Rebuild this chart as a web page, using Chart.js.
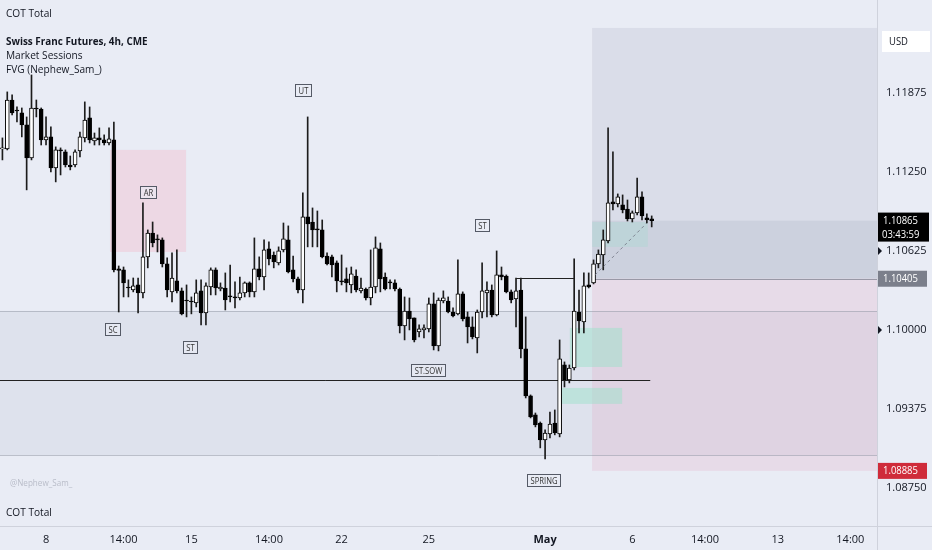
<!DOCTYPE html>
<html>
<head>
<meta charset="utf-8">
<script src="https://cdn.jsdelivr.net/npm/chart.js@4.4.1/dist/chart.umd.min.js"></script>
<style>
  html, body { margin: 0; padding: 0; background: #e9ecf5; }
  #wrap { width: 932px; height: 550px; }
</style>
</head>
<body>
<div id="wrap"><canvas id="c" width="932" height="550"></canvas></div>
<script>
/* Swiss Franc Futures 4h – candles */

const slotCount = 181;                      // candle slots incl. empty space on the right
const slots = Array.from({ length: slotCount }, (_, i) => i);

const opens = [
  1.11432,1.11432,1.11819,1.11740,1.11717,1.11622,1.11361,1.11756,1.11748,1.11503,
  1.11527,1.11282,1.11424,1.11408,1.11305,1.11305,1.11416,1.11519,1.11677,1.11495,
  1.11519,1.11503,1.11479,1.11503,1.10483,1.10475,1.10340,1.10316,1.10356,1.10293,
  1.10578,1.10767,1.10720,1.10712,1.10522,1.10301,1.10388,1.10309,1.10237,1.10229,
  1.10214,1.10309,1.10135,1.10340,1.10475,1.10324,1.10332,1.10269,1.10261,1.10253,
  1.10293,1.10372,1.10301,1.10483,1.10419,1.10641,1.10593,1.10530,1.10633,1.10712,
  1.10475,1.10404,1.10316,1.10894,1.10854,1.10799,1.10791,1.10585,1.10578,1.10530,
  1.10388,1.10404,1.10356,1.10427,1.10309,1.10324,1.10253,1.10340,1.10641,1.10419,
  1.10380,1.10372,1.10324,1.10032,1.10150,1.10095,1.09984,1.10000,1.10008,1.10206,
  1.09873,1.10229,1.10229,1.10142,1.10127,1.10285,1.10103,1.10024,1.09937,1.10142,
  1.10293,1.10316,1.10119,1.10435,1.10427,1.10301,1.10245,1.10316,1.09850,1.09478,
  1.09328,1.09264,1.09130,1.09177,1.09264,1.09177,1.09723,1.09604,1.09699,1.10142,
  1.10063,1.10356,1.10372,1.10522,1.10593,1.10704,1.11013,1.10997,1.10989,1.10957,
  1.10878,1.10926,1.11052,1.10886,1.10878
];
const highs = [
  1.11519,1.11883,1.11859,1.11764,1.11756,1.11685,1.12017,1.11819,1.11756,1.11685,
  1.11606,1.11448,1.11440,1.11424,1.11376,1.11424,1.11566,1.11804,1.11764,1.11558,
  1.11598,1.11543,1.11598,1.11645,1.10506,1.10498,1.10396,1.10411,1.10411,1.11005,
  1.10791,1.10854,1.10752,1.10728,1.10570,1.10609,1.10633,1.10332,1.10356,1.10261,
  1.10396,1.10396,1.10372,1.10491,1.10491,1.10372,1.10451,1.10514,1.10380,1.10419,
  1.10380,1.10380,1.10728,1.10578,1.10712,1.10696,1.10617,1.10657,1.10846,1.10823,
  1.10585,1.10419,1.11084,1.11685,1.10965,1.10941,1.10870,1.10609,1.10593,1.10546,
  1.10593,1.10491,1.10498,1.10475,1.10411,1.10332,1.10633,1.10736,1.10688,1.10451,
  1.10396,1.10396,1.10332,1.10261,1.10253,1.10095,1.10040,1.10040,1.10253,1.10293,
  1.10253,1.10309,1.10261,1.10174,1.10554,1.10301,1.10142,1.10103,1.10158,1.10530,
  1.10380,1.10356,1.10625,1.10498,1.10435,1.10316,1.10411,1.10411,1.10103,1.09486,
  1.09343,1.09272,1.09209,1.09351,1.09367,1.09921,1.09747,1.09723,1.10562,1.10316,
  1.10451,1.10451,1.10554,1.10633,1.10791,1.11598,1.11408,1.11076,1.11068,1.11028,
  1.10941,1.11202,1.11092,1.10918,1.10902
];
const lows = [
  1.11345,1.11424,1.11701,1.11645,1.11527,1.11108,1.11345,1.11685,1.11463,1.11463,
  1.11250,1.11171,1.11226,1.11289,1.11266,1.11289,1.11368,1.11487,1.11479,1.11463,
  1.11463,1.11463,1.11463,1.10459,1.10142,1.10261,1.10261,1.10301,1.10135,1.10253,
  1.10491,1.10657,1.10617,1.10498,1.10261,1.10221,1.10293,1.10119,1.10103,1.10127,
  1.10182,1.10040,1.10040,1.10277,1.10277,1.10309,1.10158,1.10221,1.10174,1.10237,
  1.10261,1.10261,1.10261,1.10396,1.10316,1.10514,1.10491,1.10514,1.10617,1.10451,
  1.10380,1.10293,1.10214,1.10657,1.10657,1.10657,1.10570,1.10514,1.10419,1.10301,
  1.10356,1.10301,1.10293,1.10301,1.10293,1.10237,1.10198,1.10293,1.10301,1.10316,
  1.10324,1.10309,1.09976,1.09921,1.10000,1.09905,1.09945,1.09937,1.09984,1.09842,
  1.09834,1.10214,1.10135,1.10103,1.10119,1.10071,1.09897,1.09929,1.09818,1.10095,
  1.10103,1.10103,1.10111,1.10396,1.10293,1.10214,1.10024,1.09779,1.09462,1.09304,
  1.09233,1.09067,1.08980,1.09146,1.09170,1.09154,1.09549,1.09581,1.09684,1.09976,
  1.09976,1.10332,1.10364,1.10491,1.10475,1.10688,1.10949,1.10973,1.10926,1.10862,
  1.10854,1.10910,1.10870,1.10846,1.10815
];
const closes = [
  1.11440,1.11819,1.11717,1.11732,1.11622,1.11361,1.11756,1.11748,1.11503,1.11527,
  1.11282,1.11424,1.11416,1.11305,1.11289,1.11408,1.11527,1.11661,1.11503,1.11519,
  1.11503,1.11479,1.11511,1.10475,1.10470,1.10372,1.10332,1.10348,1.10293,1.10578,
  1.10767,1.10688,1.10712,1.10522,1.10316,1.10411,1.10309,1.10127,1.10229,1.10221,
  1.10293,1.10135,1.10348,1.10475,1.10332,1.10340,1.10237,1.10261,1.10253,1.10293,
  1.10372,1.10301,1.10483,1.10419,1.10633,1.10562,1.10538,1.10625,1.10720,1.10459,
  1.10404,1.10316,1.10894,1.10839,1.10791,1.10791,1.10578,1.10522,1.10514,1.10388,
  1.10380,1.10372,1.10443,1.10316,1.10332,1.10253,1.10340,1.10649,1.10404,1.10324,
  1.10372,1.10324,1.10032,1.10150,1.10087,1.09921,1.10008,1.10016,1.10206,1.09873,
  1.10237,1.10253,1.10142,1.10111,1.10285,1.10087,1.10024,1.09945,1.10142,1.10309,
  1.10316,1.10119,1.10435,1.10419,1.10301,1.10237,1.10309,1.09850,1.09478,1.09312,
  1.09249,1.09130,1.09185,1.09256,1.09185,1.09771,1.09604,1.09699,1.10150,1.10071,
  1.10348,1.10340,1.10522,1.10601,1.10712,1.11005,1.10997,1.11052,1.10949,1.10878,
  1.10926,1.11052,1.10902,1.10870,1.10865
];

// axes
const priceTicks = [1.08750, 1.09375, 1.10000, 1.10625, 1.11250, 1.11875];
const timeTickSlots = [9, 25, 39, 55, 70, 88, 112, 130, 145, 160, 175];
const timeTickText = ['8', '14:00', '15', '14:00', '22', '25', 'May', '6', '14:00', '13', '14:00'];

// wyckoff event labels (slot, price)
const eventNames  = ['SC', 'ST', 'AR', 'UT', 'ST', 'ST.SOW', 'SPRING'];
const eventSlots  = [22.8, 38.7, 30.0, 62.0, 99.0, 87.8, 111.6];
const eventPrices = [1.10008, 1.09866, 1.11092, 1.11898, 1.10831, 1.09684, 1.08813];

// price tags on the right scale
const lastPrice = 1.10865, entryPrice = 1.10405, stopPrice = 1.08885, targetPrice = 1.12389;

const FONT = "'Open Sans', 'Noto Sans', sans-serif";
const BG = '#e9ecf5';

function txt(ctx, s, x, y, font, color, sx, align) {
  ctx.save();
  ctx.font = font;
  ctx.fillStyle = color;
  ctx.textBaseline = 'middle';
  ctx.textAlign = align || 'left';
  ctx.translate(x, y);
  ctx.scale(sx || 1, 1);
  ctx.fillText(s, 0, 0);
  ctx.restore();
}

// kill the label padding chart.js adds around the plot
function noPad(s) {
  s.paddingTop = 0; s.paddingBottom = 0; s.paddingLeft = 0; s.paddingRight = 0;
}

const overlay = {
  id: 'overlay',
  beforeDraw(chart) {
    const ctx = chart.ctx;
    ctx.save();
    ctx.fillStyle = BG;
    ctx.fillRect(0, 0, chart.width, chart.height);
    ctx.restore();
  },
  beforeDatasetsDraw(chart) {
    const ctx = chart.ctx, a = chart.chartArea;
    const X = v => chart.scales.x.getPixelForValue(v);
    const Y = p => chart.scales.y.getPixelForValue(p);
    const rect = (x1, x2, p1, p2, col) => {
      ctx.fillStyle = col;
      ctx.fillRect(x1, Y(p1), x2 - x1, Y(p2) - Y(p1));
    };
    ctx.save();
    // session band
    rect(a.left, a.right, 1.10150, 1.09010, 'rgba(170,176,198,0.16)');
    // supply zone
    rect(X(22.2), X(37.9), 1.11424, 1.10617, 'rgba(242,196,212,0.5)');
    // long position tool
    const px = X(121.7);
    rect(px, a.right, targetPrice, lastPrice, 'rgba(160,166,186,0.2)');
    rect(px, a.right, lastPrice, entryPrice, 'rgba(140,146,170,0.3)');
    rect(px, a.right, entryPrice, stopPrice, 'rgba(226,168,196,0.25)');
    // fair value gaps
    rect(X(117.1), X(127.9), 1.10016, 1.09707, 'rgba(150,226,200,0.45)');
    rect(X(115.1), X(127.9), 1.09541, 1.09415, 'rgba(150,226,200,0.45)');
    rect(px, X(133.2), 1.10854, 1.10657, 'rgba(160,220,205,0.3)');
    // band edges
    ctx.strokeStyle = 'rgba(150,154,168,0.55)';
    ctx.lineWidth = 1;
    [1.10150, 1.09010].forEach(p => {
      const y = Math.round(Y(p)) + 0.5;
      ctx.beginPath(); ctx.moveTo(a.left, y); ctx.lineTo(a.right, y); ctx.stroke();
    });
    // entry line
    ctx.strokeStyle = 'rgba(120,124,138,0.7)';
    let y = Math.round(Y(entryPrice)) + 0.5;
    ctx.beginPath(); ctx.moveTo(px, y); ctx.lineTo(a.right, y); ctx.stroke();
    // black level line
    ctx.strokeStyle = '#222';
    y = Math.round(Y(1.09604)) + 0.5;
    ctx.beginPath(); ctx.moveTo(a.left, y); ctx.lineTo(X(133.7), y); ctx.stroke();
    ctx.restore();
  },
  afterDatasetsDraw(chart) {
    const ctx = chart.ctx;
    const X = v => chart.scales.x.getPixelForValue(v);
    const Y = p => chart.scales.y.getPixelForValue(p);
    ctx.save();
    // range high line
    ctx.strokeStyle = '#222';
    ctx.lineWidth = 1;
    let y = Math.round(Y(1.10411)) + 0.5;
    ctx.beginPath(); ctx.moveTo(X(106), y); ctx.lineTo(X(118), y); ctx.stroke();
    // dashed trend line
    ctx.strokeStyle = 'rgba(110,114,128,0.8)';
    ctx.setLineDash([3, 3]);
    ctx.beginPath(); ctx.moveTo(X(122.3), Y(1.10435)); ctx.lineTo(X(133), Y(1.10846)); ctx.stroke();
    ctx.setLineDash([]);
    // event labels
    const lf = `9px ${FONT}`;
    eventNames.forEach((n, i) => {
      ctx.font = lf;
      const cx = X(eventSlots[i]), cy = Y(eventPrices[i]);
      const w = Math.round(ctx.measureText(n).width * 0.85 + 6), h = 12;
      const bx = Math.round(cx - w / 2) + 0.5, by = Math.round(cy - h / 2) + 0.5;
      ctx.fillStyle = 'rgba(233,236,245,0.6)';
      ctx.fillRect(bx, by, w, h);
      ctx.strokeStyle = '#555a66';
      ctx.strokeRect(bx, by, w, h);
      txt(ctx, n, bx + w / 2, by + h / 2 + 0.5, lf, '#333', 0.85, 'center');
    });
    // legend texts
    txt(ctx, 'COT Total', 6, 14, `11px ${FONT}`, '#131722', 0.92);
    txt(ctx, 'Swiss Franc Futures, 4h, CME', 6, 42, `bold 11px ${FONT}`, '#131722', 0.9);
    txt(ctx, 'Market Sessions', 6, 56, `11px ${FONT}`, '#131722', 0.92);
    txt(ctx, 'FVG (Nephew_Sam_)', 6, 70, `11px ${FONT}`, '#131722', 0.92);
    txt(ctx, '@Nephew_Sam_', 10, 483, `9px ${FONT}`, '#b9bdc9', 0.9);
    txt(ctx, 'COT Total', 6, 513, `11px ${FONT}`, '#131722', 0.92);
    ctx.restore();
  },
  afterDraw(chart) {
    const ctx = chart.ctx, a = chart.chartArea;
    const Y = p => chart.scales.y.getPixelForValue(p);
    ctx.save();
    ctx.strokeStyle = '#cfd2dc';
    ctx.lineWidth = 1;
    ctx.beginPath(); ctx.moveTo(a.right + 0.5, 0); ctx.lineTo(a.right + 0.5, chart.height); ctx.stroke();
    ctx.beginPath(); ctx.moveTo(0, a.bottom + 0.5); ctx.lineTo(chart.width, a.bottom + 0.5); ctx.stroke();
    const L = a.right + 1;
    const tf = `11px ${FONT}`;
    // USD box
    ctx.fillStyle = '#ffffff';
    ctx.fillRect(L + 4, 31, 48, 21);
    txt(ctx, 'USD', L + 11, 42, tf, '#131722', 0.86);
    // last price tag
    let y = Y(lastPrice);
    ctx.fillStyle = '#000000';
    ctx.fillRect(L, y - 8, 51, 29);
    txt(ctx, '1.10865', L + 5, y, tf, '#ffffff', 0.86);
    txt(ctx, '03:43:59', L + 4, y + 14, tf, '#ffffff', 0.86);
    // entry tag
    y = Y(entryPrice);
    ctx.fillStyle = '#7b7f8b';
    ctx.fillRect(L, y - 8, 49, 16);
    txt(ctx, '1.10405', L + 5, y, tf, '#ffffff', 0.86);
    // stop tag
    y = Y(stopPrice);
    ctx.fillStyle = '#cf2b3a';
    ctx.fillRect(L, y - 8, 49, 16);
    txt(ctx, '1.08885', L + 5, y, tf, '#ffffff', 0.86);
    // alert arrows
    ctx.fillStyle = '#131722';
    [1.10625, 1.10000].forEach(p => {
      const yy = Y(p);
      ctx.beginPath(); ctx.moveTo(L, yy - 4); ctx.lineTo(L + 4, yy); ctx.lineTo(L, yy + 4); ctx.fill();
    });
    ctx.restore();
  }
};

const bodyColors = opens.map((o, i) => closes[i] >= o ? '#ffffff' : '#000000');

new Chart(document.getElementById('c'), {
  type: 'bar',
  data: {
    labels: slots,
    datasets: [
      {
        label: 'body',
        data: opens.map((o, i) => [o, closes[i]]),
        backgroundColor: bodyColors,
        borderColor: '#000000',
        borderWidth: 1,
        borderSkipped: false,
        barThickness: 4,
        minBarLength: 1,
        grouped: false,
        order: 1
      },
      {
        label: 'wick',
        data: lows.map((l, i) => [l, highs[i]]),
        backgroundColor: '#1c1c1c',
        borderWidth: 0,
        barThickness: 1,
        grouped: false,
        order: 2
      }
    ]
  },
  options: {
    responsive: false,
    animation: false,
    layout: { padding: 0 },
    plugins: { legend: { display: false }, tooltip: { enabled: false } },
    scales: {
      x: {
        type: 'category',
        grid: { display: false, drawTicks: false },
        border: { display: false },
        afterFit: s => { s.height = 24; noPad(s); },
        ticks: {
          autoSkip: false, maxRotation: 0, minRotation: 0, padding: 7,
          color: '#131722',
          font: c => ({ family: FONT, size: 11, weight: timeTickText[timeTickSlots.indexOf(c.index)] === 'May' ? 'bold' : 'normal' }),
          callback: (v, i) => {
            const k = timeTickSlots.indexOf(i);
            return k >= 0 ? timeTickText[k] : '';
          }
        }
      },
      y: {
        position: 'right',
        min: 1.08449,
        max: 1.12610,
        grid: { display: false, drawTicks: false },
        border: { display: false },
        afterFit: s => { s.width = 55; noPad(s); },
        afterBuildTicks: s => { s.ticks = priceTicks.map(v => ({ value: v })); },
        ticks: {
          padding: 9,
          color: '#131722',
          font: { family: FONT, size: 11 },
          callback: v => v.toFixed(5)
        }
      }
    }
  },
  plugins: [overlay]
});
</script>
</body>
</html>
